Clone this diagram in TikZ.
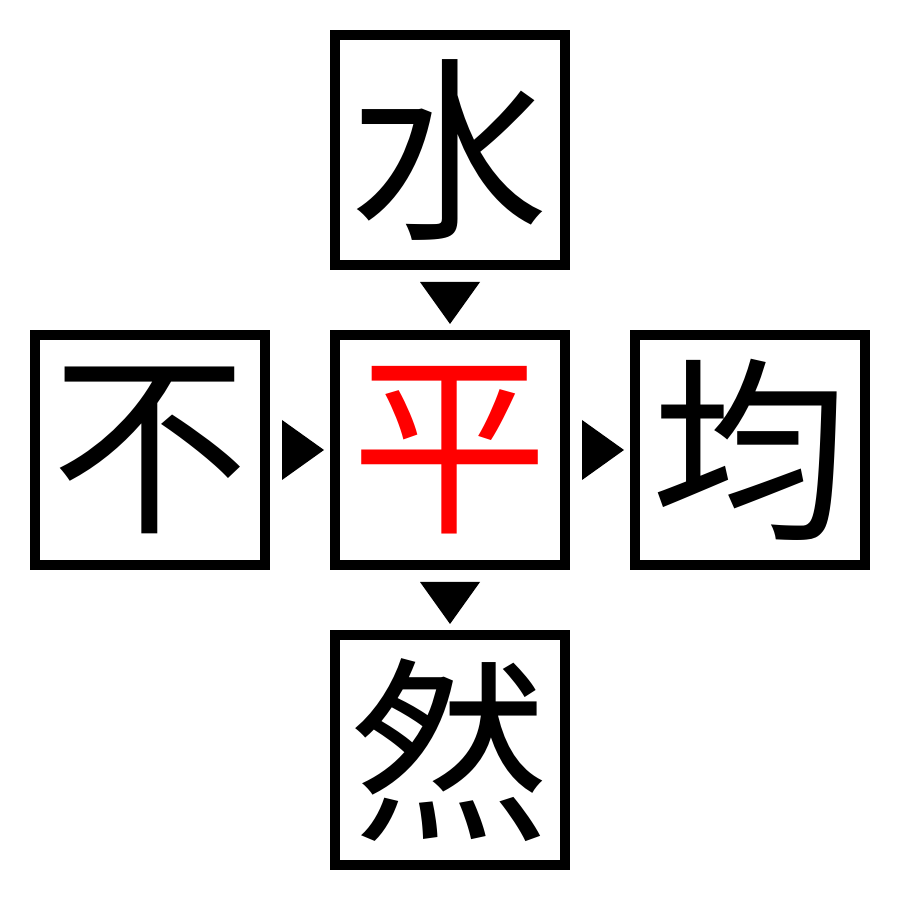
\documentclass[tikz,border=0pt]{standalone}
\usepackage{fontspec}
\newfontfamily\cjk{Noto Sans CJK JP}
\usetikzlibrary{calc}

\begin{document}
\begin{tikzpicture}[line cap=butt,line join=miter,x=1.0cm,y=1.0cm,
  hanzi/.style={draw=black,line width=0.1cm,minimum size=2.3cm,inner sep=0pt,font=\cjk\fontsize{56}{56}\selectfont},
  tri/.style={fill=black}]
\useasboundingbox (0,0) rectangle (9,9);
\fill [white] (0,0) rectangle (9,9);
\node [hanzi] (shui) at (4.5,7.5) {水};
\node [hanzi] (bu) at (1.5,4.5) {不};
\node [hanzi,text=red] (ping) at (4.5,4.5) {平};
\node [hanzi] (jun) at (7.5,4.5) {均};
\node [hanzi] (ran) at (4.5,1.5) {然};
\fill [tri] ($(shui.south)+(-0.3,-0.12)$) -- ++(0.6,0) -- ++(-0.3,-0.42) -- cycle;
\fill [tri] ($(ping.south)+(-0.3,-0.12)$) -- ++(0.6,0) -- ++(-0.3,-0.42) -- cycle;
\fill [tri] ($(bu.east)+(0.12,0.3)$) -- ++(0,-0.6) -- ++(0.42,0.3) -- cycle;
\fill [tri] ($(ping.east)+(0.12,0.3)$) -- ++(0,-0.6) -- ++(0.42,0.3) -- cycle;
\end{tikzpicture}
\end{document}
